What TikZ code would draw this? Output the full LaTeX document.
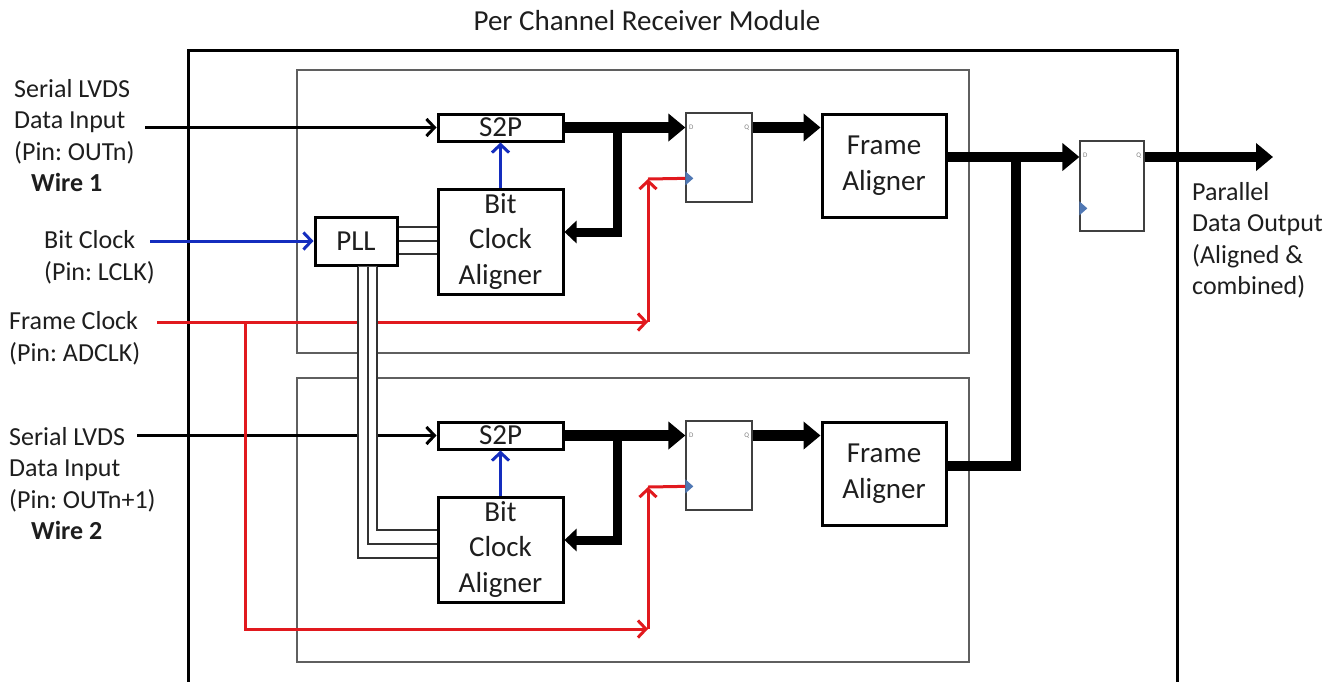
\documentclass[tikz,border=0pt]{standalone}
\usepackage{fontspec}
\setmainfont{Carlito}
\usetikzlibrary{arrows.meta,calc}
\definecolor{myblue}{RGB}{20,45,190}
\definecolor{myred}{RGB}{225,25,30}
\definecolor{ckblue}{RGB}{80,120,180}
\definecolor{boxgray}{RGB}{95,95,95}
\definecolor{txt}{RGB}{30,30,30}
\frenchspacing
\begin{document}
\begin{tikzpicture}[x=1pt,y=-1pt,
  font=\fontsize{26}{31.5}\selectfont, text=txt,
  blk/.style={draw=black, line width=3pt, fill=white, inner sep=0pt, align=center,
    font=\fontsize{29}{35.5}\selectfont},
  ffbox/.style={draw=black!75, line width=1.3pt, fill=white, inner sep=0pt,
    minimum width=66pt, minimum height=89pt},
  chbox/.style={draw=boxgray, line width=1.2pt, inner sep=0pt},
  pinlbl/.style={font=\fontsize{7}{8}\selectfont, text=black!50, inner sep=0pt},
  wire/.style={line width=3pt, -{Straight Barb[length=8pt,width=17pt]}},
  bluew/.style={wire, draw=myblue},
  redw/.style={line width=3pt, draw=myred, -{Straight Barb[length=8pt,width=17pt]}},
  redline/.style={line width=3pt, draw=myred},
  fatarrow/.style={line width=10.5pt, -{Triangle[length=17pt,width=27pt]}},
  fatline/.style={line width=10.5pt},
  brarrow/.style={line width=9pt, -{Triangle[length=12pt,width=22pt]}},
  busline/.style={draw=black!80, line width=1.5pt},
  sidelbl/.style={align=left, anchor=west, inner sep=0pt},
]
\useasboundingbox (0,0) rectangle (1335,681);
\clip (0,0) rectangle (1335,681);

% title and module frame
\node[font=\fontsize{29}{34}\selectfont] (title) at (647,21) {Per Channel Receiver Module};
\draw[line width=3pt] (188,700) -- (188,50) -- (1177,50) -- (1177,700);

% channel boxes
\node[chbox, minimum width=672pt, minimum height=283pt] (chA) at (633,211.5) {};
\node[chbox, minimum width=672pt, minimum height=284pt] (chB) at (633,520) {};

% side labels
\node[sidelbl] (inA) at (14,135.5) {Serial LVDS\\Data Input\\(Pin: OUTn)\\\hspace*{17pt}\textbf{Wire 1}};
\node[sidelbl] (bclk) at (44,257.5) {Bit Clock\\(Pin: LCLK)};
\node[sidelbl] (fclk) at (9,338.5) {Frame Clock\\(Pin: ADCLK)};
\node[sidelbl] (inB) at (9,483.5) {Serial LVDS\\Data Input\\(Pin: OUTn+1)\\\hspace*{22pt}\textbf{Wire 2}};
\node[sidelbl] (outlbl) at (1192,240.5) {Parallel\\Data Output\\(Aligned \&\\combined)};

% blocks
\node[blk, minimum width=125pt, minimum height=27pt] (s2pA) at (500.5,127.5) {S2P};
\node[blk, minimum width=125pt, minimum height=27pt] (s2pB) at (500.5,435.5) {S2P};
\node[blk, minimum width=125pt, minimum height=105pt] (bcaA) at (500.5,241.5) {Bit\\Clock\\Aligner};
\node[blk, minimum width=125pt, minimum height=105pt] (bcaB) at (500.5,549.5) {Bit\\Clock\\Aligner};
\node[blk, minimum width=82pt, minimum height=48pt] (pll) at (356,241) {PLL};
\node[blk, minimum width=124pt, minimum height=103pt] (faA) at (884,165.5) {Frame\\Aligner};
\node[blk, minimum width=124pt, minimum height=103pt] (faB) at (884,473.5) {Frame\\Aligner};

% flip-flops
\node[ffbox] (ffA) at (719,157.5) {};
\node[ffbox] (ffB) at (719,465.5) {};
\node[ffbox, minimum width=64pt, minimum height=90pt] (ffC) at (1112,186) {};
\foreach \f/\ck in {ffA/66, ffB/66, ffC/68}{
  \node[pinlbl] (\f D) at ($(\f.north west)+(6,15)$) {D};
  \node[pinlbl] (\f Q) at ($(\f.north east)+(-6,15)$) {Q};
  \coordinate (\f ck) at ($(\f.north west)+(0,\ck)$);
}

% serial data inputs
\coordinate (dinA) at (145,127.5);
\coordinate (dinB) at (137,435.5);
\draw[wire] (dinA) -- (s2pA.west);
\draw[wire] (dinB) -- (s2pB.west);

% bit clock
\coordinate (bcin) at (150,241);
\draw[bluew] (bcin) -- (pll.west);
\draw[bluew] (bcaA.north) -- (s2pA.south);
\draw[bluew] (bcaB.north) -- (s2pB.south);

% frame clock (red)
\coordinate (fcIn) at (157,322);
\coordinate (fcA) at (648,322);
\coordinate (ckA) at (648,179);
\coordinate (brB) at (245,322);
\coordinate (fcB) at (648,629);
\coordinate (ckB) at (648,487);
\draw[redw] (fcIn) -- (fcA);
\draw[redw] (fcA) -- (ckA);
\draw[redline] (ckA) -- (ffAck);
\draw[redw] (brB) |- (fcB);
\draw[redw] (fcB) -- (ckB);
\draw[redline] (ckB) -- (ffBck);

% clock triangles
\foreach \f in {ffA, ffB, ffC}{
  \fill[ckblue] ($(\f ck)+(0,-7)$) -- ++(8,7) -- ++(-8,7) -- cycle;
}

% fat data paths
\draw[fatarrow] (s2pA.east) -- (s2pA.east -| ffA.west);
\draw[fatarrow] (s2pB.east) -- (s2pB.east -| ffB.west);
\coordinate (brA) at (617,127.5);
\coordinate (brBB) at (617,435.5);
\draw[brarrow] (brA) |- ([yshift=9.5pt]bcaA.east);
\draw[brarrow] (brBB) |- ([yshift=9.5pt]bcaB.east);
\draw[fatarrow] (s2pA.east -| ffA.east) -- (s2pA.east -| faA.west);
\draw[fatarrow] (s2pB.east -| ffB.east) -- (s2pB.east -| faB.west);
\coordinate (jn) at (1016,157);
\draw[fatarrow] ([yshift=8.5pt]faA.east) -- (ffC.west |- jn);
\draw[fatline, line join=miter] ([yshift=7.5pt]faB.east) -| (jn);
\coordinate (outEnd) at (1273,157);
\draw[fatarrow] (ffC.east |- outEnd) -- (outEnd);

% PLL clock bus
\coordinate (pA1) at ($(pll.east)+(0,-14)$);
\coordinate (pA2) at ($(pll.east)+(0,0)$);
\coordinate (pA3) at ($(pll.east)+(0,13)$);
\draw[busline] (pA1) -- (pA1 -| bcaA.west);
\draw[busline] (pA2) -- (pA2 -| bcaA.west);
\draw[busline] (pA3) -- (pA3 -| bcaA.west);
\fill[white] ([xshift=2pt]pll.south) |- ([yshift=-8.5pt]bcaB.west)
  -- ([yshift=19.5pt]bcaB.west) -| ([xshift=21pt]pll.south) -- cycle;
\draw[busline] ([xshift=2pt]pll.south) |- ([yshift=-8.5pt]bcaB.west);
\draw[busline] ([xshift=12pt]pll.south) |- ([yshift=5.5pt]bcaB.west);
\draw[busline] ([xshift=21pt]pll.south) |- ([yshift=19.5pt]bcaB.west);
\end{tikzpicture}
\end{document}
